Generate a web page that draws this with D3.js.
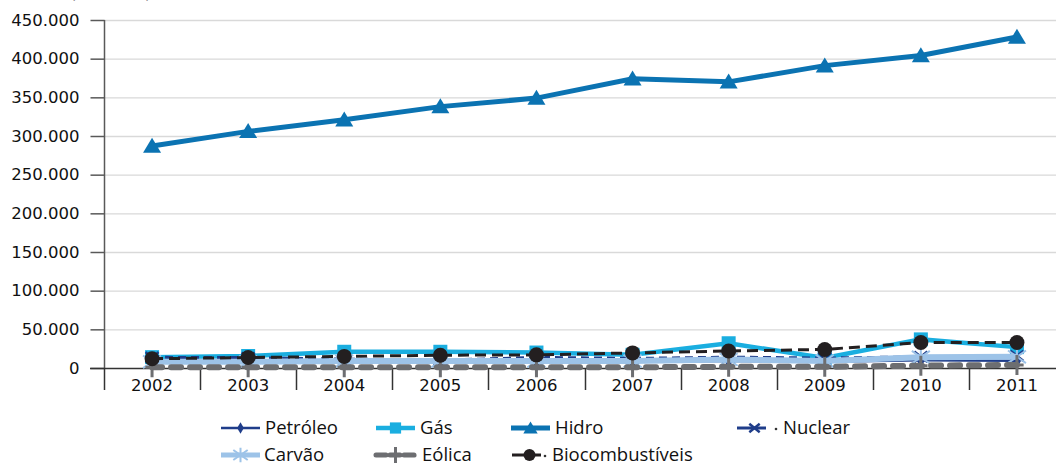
<!DOCTYPE html>
<html><head><meta charset="utf-8">
<script src="https://cdn.jsdelivr.net/npm/d3@7"></script>
<style>body{margin:0;background:#fff}svg{display:block}</style>
</head><body><svg id="c" width="1056" height="466"></svg>
<script>
const years = ["2002","2003","2004","2005","2006","2007","2008","2009","2010","2011"];
const yTicks = [0,50000,100000,150000,200000,250000,300000,350000,400000,450000];
const petroleo = [9000, 8500, 8000, 8500, 8000, 8000, 9000, 8000, 10000, 9500];
const gas = [14000, 15500, 21000, 21000, 20000, 17000, 32000, 13000, 37000, 27000];
const hidro = [287000, 306000, 321000, 338000, 349000, 374000, 370000, 391000, 404000, 428000];
const nuclear = [13800, 13400, 11600, 9900, 13800, 12400, 14000, 12900, 14500, 15700];
const carvao = [8000, 8000, 9000, 9000, 9000, 9000, 11000, 9000, 14000, 14500];
const eolica = [1000, 1000, 1000, 1000, 1000, 1000, 1500, 1500, 3000, 4000];
const bio = [12000, 13500, 15000, 16500, 17000, 19500, 22000, 24000, 33000, 33000];
const seriesNames = ["Petróleo","Gás","Hidro","Nuclear","Carvão","Eólica","Biocombustíveis"];

const svg = d3.select("#c");
const x = d3.scaleBand().domain(years).range([104, 1065]);
const y = d3.scaleLinear().domain([0, 450000]).range([368, 20]);
const fmt = v => d3.format(",")(v).replace(/,/g, ".");

// title fragment (cut off at the top edge, as in the reference)
svg.append("text").attr("x", 70).attr("y", -2).attr("font-family","DejaVu Sans").attr("font-size",16).attr("fill","#222").text("(em GWh)");

// gridlines
svg.append("g").selectAll("line").data(yTicks.filter(d=>d>0)).join("line")
  .attr("x1",104).attr("x2",1056).attr("y1",d=>y(d)+0.5).attr("y2",d=>y(d)+0.5)
  .attr("stroke","#d9d9d9").attr("stroke-width",1.3);

// y axis
const ya = svg.append("g").attr("transform","translate(104.5,0)")
  .call(d3.axisLeft(y).tickValues(yTicks).tickFormat(fmt).tickSize(14).tickPadding(11));
ya.select(".domain").attr("stroke","#595959").attr("stroke-width",1.5).attr("d","M0,20V368");
ya.selectAll(".tick line").attr("stroke","#595959").attr("stroke-width",1.5);
ya.selectAll(".tick text").attr("font-family","DejaVu Sans").attr("font-size",16.5).attr("fill","#111");

// x axis
const xg = svg.append("g");
xg.append("line").attr("x1",90).attr("x2",1056).attr("y1",368.5).attr("y2",368.5).attr("stroke","#333").attr("stroke-width",1.5);
const bounds = years.map(d=>x(d)).concat([x(years[years.length-1])+x.bandwidth()]);
xg.selectAll("line.t").data(bounds).join("line").attr("class","t")
  .attr("x1",d=>Math.round(d)+0.5).attr("x2",d=>Math.round(d)+0.5).attr("y1",368).attr("y2",390)
  .attr("stroke","#333").attr("stroke-width",1.5);
xg.selectAll("text").data(years).join("text")
  .attr("x",d=>x(d)+x.bandwidth()/2).attr("y",391).attr("text-anchor","middle")
  .attr("font-family","DejaVu Sans").attr("font-size",16.5).attr("fill","#111").text(d=>d);

const cx = d => x(d)+x.bandwidth()/2;
const line = d3.line().x((v,i)=>cx(years[i])).y(v=>y(v));

function marker(g, type, color, px, py, s) {
  if (type==="diamond") {
    g.append("path").attr("d",d3.symbol(d3.symbolDiamond, s*s*0.5)()).attr("transform",`translate(${px},${py})`).attr("fill",color);
  } else if (type==="square") {
    g.append("rect").attr("x",px-s/2).attr("y",py-s/2).attr("width",s).attr("height",s).attr("fill",color);
  } else if (type==="triangle") {
    g.append("path").attr("d",`M${px},${py-s*0.55}L${px+s*0.6},${py+s*0.45}L${px-s*0.6},${py+s*0.45}Z`).attr("fill",color);
  } else if (type==="x") {
    const h=s/2;
    g.append("path").attr("d",`M${px-h},${py-h*0.8}L${px+h},${py+h*0.8}M${px-h},${py+h*0.8}L${px+h},${py-h*0.8}`).attr("stroke",color).attr("stroke-width",2.5);
  } else if (type==="star") {
    const h=s/2;
    g.append("path").attr("d",`M${px-h},${py-h*0.7}L${px+h},${py+h*0.7}M${px-h},${py+h*0.7}L${px+h},${py-h*0.7}M${px},${py-h}L${px},${py+h}`).attr("stroke",color).attr("stroke-width",2);
  } else if (type==="plus") {
    g.append("path").attr("d",`M${px},${py-s/2}L${px},${py+s/2}M${px-s/3},${py}L${px+s/3},${py}`).attr("stroke",color).attr("stroke-width",3);
  } else if (type==="circle") {
    g.append("circle").attr("cx",px).attr("cy",py).attr("r",s/2).attr("fill",color);
  }
}

const series = [
  {name:"Petróleo", data:petroleo, color:"#1f3d8a", w:2.5, dash:null, m:"diamond", ms:11},
  {name:"Gás", data:gas, color:"#1aaee0", w:4.5, dash:null, m:"square", ms:14},
  {name:"Hidro", data:hidro, color:"#0b73b2", w:5, dash:null, m:"triangle", ms:15},
  {name:"Nuclear", data:nuclear, color:"#1f3d8a", w:3, dash:"8,5", m:"x", ms:13},
  {name:"Carvão", data:carvao, color:"#9dc3e8", w:6, dash:null, m:"star", ms:18},
  {name:"Eólica", data:eolica, color:"#6d6e71", w:6, dash:"10,9", m:"plus", ms:20, cap:"round"},
  {name:"Biocombustíveis", data:bio, color:"#231f20", w:3, dash:"11,6", m:"circle", ms:15}
];

series.forEach(s => {
  const g = svg.append("g");
  g.append("path").attr("d", line(s.data)).attr("fill","none").attr("stroke",s.color)
    .attr("stroke-width",s.w).attr("stroke-dasharray",s.dash).attr("stroke-linecap",s.cap||"butt");
  s.data.forEach((v,i)=>marker(g, s.m, s.color, cx(years[i]), y(v), s.ms));
});

// legend
const legendPos = [
  {lx:221, tx:265, ty:428, dot:false},
  {lx:376, tx:420, ty:428, dot:false},
  {lx:511, tx:555, ty:428, dot:false},
  {lx:737, tx:783, ty:428, dot:true, short:true},
  {lx:221, tx:264, ty:455, dot:false},
  {lx:376, tx:422, ty:455, dot:true},
  {lx:512, tx:552, ty:455, dot:true, short:true}
];
const lg = svg.append("g");
series.forEach((s,i) => {
  const p = legendPos[i];
  const len = p.short ? 29 : 39;
  const g = lg.append("g");
  g.append("line").attr("x1",p.lx).attr("x2",p.lx+len).attr("y1",p.ty).attr("y2",p.ty)
    .attr("stroke",s.color).attr("stroke-width",Math.min(s.w,5))
    .attr("stroke-dasharray", s.name==="Eólica" ? "10,4" : null)
    .attr("stroke-linecap", s.cap||"butt");
  marker(g, s.m, s.color, p.lx+len/2 + (p.short?3:0), p.ty, s.ms*0.8);
  if (p.dot) g.append("circle").attr("cx",p.tx-7).attr("cy",p.ty+1).attr("r",1.3).attr("fill", s.name==="Eólica" ? "#6d6e71" : "#333");
  g.append("text").attr("x",p.tx).attr("y",p.ty+6).attr("font-family","Open Sans").attr("font-size",18.5).attr("fill","#111").text(s.name);
});
</script>
</body></html>
